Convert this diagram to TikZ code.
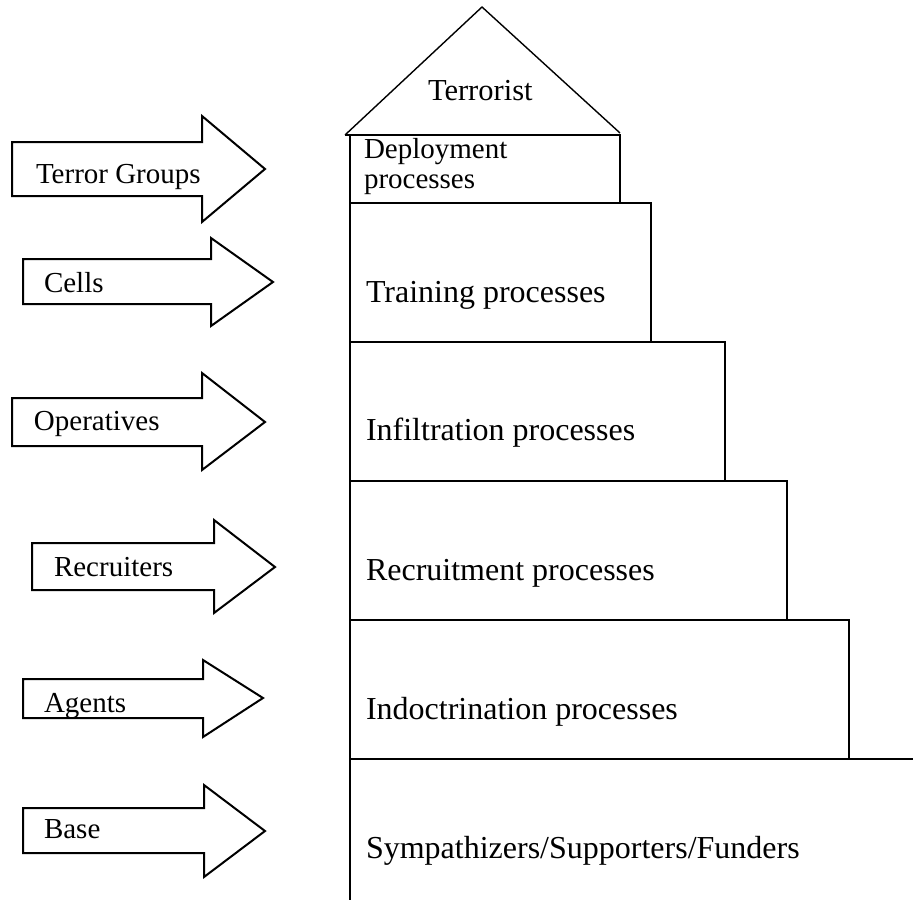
\documentclass[tikz,border=0pt]{standalone}
\usepackage{fontspec}
\setmainfont{Liberation Serif}
\begin{document}
\begin{tikzpicture}[x=1pt,y=-1pt,line width=2pt,line join=miter,
  proc/.style={anchor=base west,inner sep=0pt,font=\fontsize{32}{36}\selectfont},
  small/.style={anchor=base west,inner sep=0pt,font=\fontsize{29}{32}\selectfont},
  roof/.style={anchor=base west,inner sep=0pt,font=\fontsize{30.5}{34}\selectfont},
  arrowshape/.style={draw,line width=2pt}]
\useasboundingbox (0,0) rectangle (913,900);
% roof
\draw[line width=1.4pt] (345,135) -- (482,7) -- (620,133);
\node[roof] (terrorist) at (427,100) {Terrorist};
% steps
\draw (345,135) -- (620,135) -- (620,203);
\draw (350,135) -- (350,203);
\draw (350,203) rectangle (651,342);
\draw (350,342) rectangle (725,481);
\draw (350,481) rectangle (787,620);
\draw (350,620) rectangle (849,759);
\draw (913,759) -- (350,759) -- (350,900);
\node[small] (dep1) at (363,158) {Deployment};
\node[small] (dep2) at (363,188) {processes};
\node[proc] (train) at (365,302) {Training processes};
\node[proc] (infil) at (365,440) {Infiltration processes};
\node[proc] (recr) at (365,580) {Recruitment processes};
\node[proc] (indoc) at (365,719) {Indoctrination processes};
\node[proc] (symp) at (365,858) {Sympathizers/Supporters/Funders};
% arrows
\draw[arrowshape] (12,142) -- (202,142) -- (202,116) -- (265,169) -- (202,222) -- (202,196) -- (12,196) -- cycle;
\node[small] (tg) at (35,183) {Terror Groups};
\draw[arrowshape] (23,259) -- (211,259) -- (211,238) -- (273,282) -- (211,326) -- (211,304) -- (23,304) -- cycle;
\node[small] (cells) at (43,292) {Cells};
\draw[arrowshape] (12,398) -- (202,398) -- (202,373) -- (265,422) -- (202,470) -- (202,446) -- (12,446) -- cycle;
\node[small] (ops) at (33,430) {Operatives};
\draw[arrowshape] (32,543) -- (214,543) -- (214,520) -- (275,567) -- (214,613) -- (214,590) -- (32,590) -- cycle;
\node[small] (rec) at (53,576) {Recruiters};
\draw[arrowshape] (23,679) -- (203,679) -- (203,660) -- (263,698) -- (203,737) -- (203,718) -- (23,718) -- cycle;
\node[small] (agents) at (43,712) {Agents};
\draw[arrowshape] (23,808) -- (204,808) -- (204,785) -- (265,831) -- (204,877) -- (204,853) -- (23,853) -- cycle;
\node[small] (base) at (43,838) {Base};
\end{tikzpicture}
\end{document}
